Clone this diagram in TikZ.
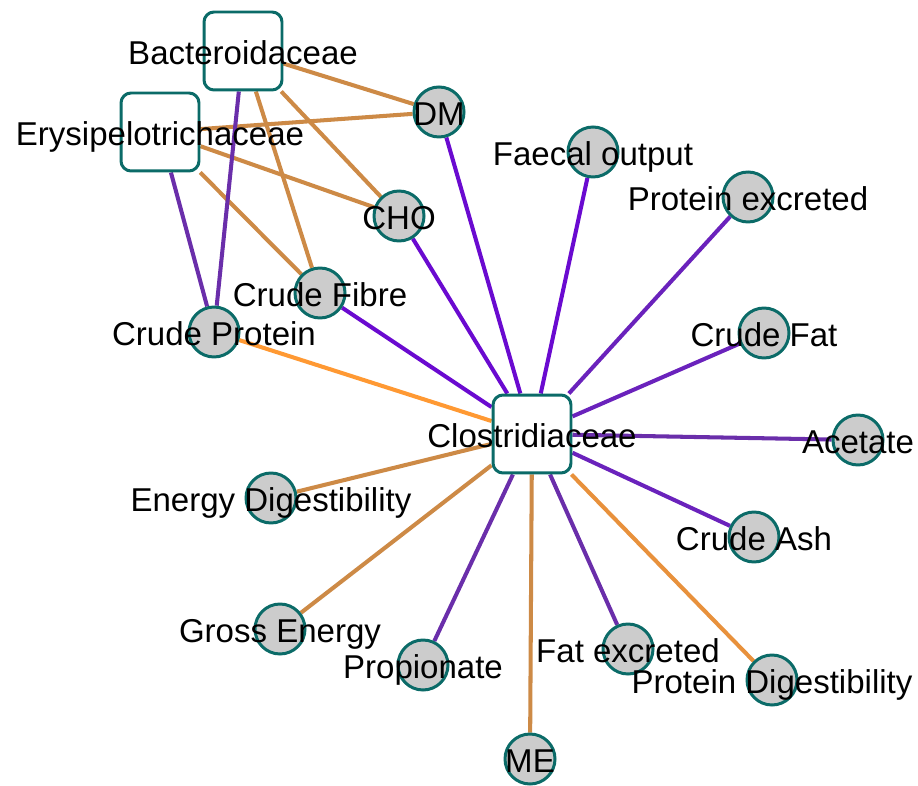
\documentclass[tikz,border=0pt]{standalone}
\usepackage{fontspec}
\setmainfont{Liberation Sans}
\usetikzlibrary{backgrounds}
\definecolor{nodeline}{HTML}{0B6B68}
\definecolor{nodefill}{HTML}{CCCCCC}
\definecolor{brownlink}{HTML}{CD8A46}
\definecolor{orangelink}{HTML}{FF9933}
\definecolor{amberlink}{HTML}{E8913C}
\definecolor{violetlink}{HTML}{6A0AD0}
\definecolor{purplelink}{HTML}{6A22BC}
\definecolor{plumlink}{HTML}{6A2EAA}
\tikzset{
  taxon/.style={draw=nodeline,line width=1.7pt,fill=white,rounded corners=0.2cm,minimum width=1.56cm,minimum height=1.56cm},
  trait/.style={circle,draw=nodeline,line width=1.7pt,fill=nodefill,minimum size=1cm,inner sep=0pt},
  link/.style={line width=2.3pt},
  lbl/.style={font=\fontsize{18.8}{22}\selectfont,anchor=base,yshift=-0.27cm,inner sep=0pt}
}

\begin{document}
\begin{tikzpicture}[x=0.02cm,y=-0.02cm]
\useasboundingbox (0,0) rectangle (918,786);

% families
\node[taxon] (bac) at (243,51) {};
\node[taxon] (ery) at (160,132) {};
\node[taxon] (clo) at (532,434) {};

% traits
\node[trait] (dm) at (439,112) {};
\node[trait] (faecal) at (593,152) {};
\node[trait] (protexc) at (748,197) {};
\node[trait] (cho) at (399,216) {};
\node[trait] (fibre) at (320,293) {};
\node[trait] (cprot) at (214,332) {};
\node[trait] (cfat) at (764,333) {};
\node[trait] (acetate) at (858,440) {};
\node[trait] (edig) at (271,498) {};
\node[trait] (ash) at (754,537) {};
\node[trait] (gross) at (280,629) {};
\node[trait] (prop) at (423,665) {};
\node[trait] (fatexc) at (628,649) {};
\node[trait] (pdig) at (772,680) {};
\node[trait] (me) at (530,759) {};

\begin{pgfonlayer}{background}
\foreach \a/\b in {bac/dm,bac/cho,bac/fibre,ery/dm,ery/cho,ery/fibre,clo/edig,clo/gross,clo/me}
  \draw[link,brownlink] (\a) -- (\b);
\foreach \a/\b in {bac/cprot,ery/cprot,clo/prop,clo/fatexc,clo/acetate}
  \draw[link,plumlink] (\a) -- (\b);
\foreach \b in {dm,cho,fibre,faecal}
  \draw[link,violetlink] (clo) -- (\b);
\foreach \b in {protexc,cfat,ash}
  \draw[link,purplelink] (clo) -- (\b);
\draw[link,orangelink] (clo) -- (cprot);
\draw[link,amberlink] (clo) -- (pdig);
\end{pgfonlayer}

% labels on top
\foreach \n/\t in {bac/Bacteroidaceae,ery/Erysipelotrichaceae,clo/Clostridiaceae,
  dm/DM,faecal/Faecal output,protexc/Protein excreted,cho/CHO,fibre/Crude Fibre,
  cprot/Crude Protein,cfat/Crude Fat,acetate/Acetate,edig/Energy Digestibility,
  ash/Crude Ash,gross/Gross Energy,prop/Propionate,fatexc/Fat excreted,
  pdig/Protein Digestibility,me/ME}
  \node[lbl] (\n-l) at (\n) {\t};

\end{tikzpicture}
\end{document}
